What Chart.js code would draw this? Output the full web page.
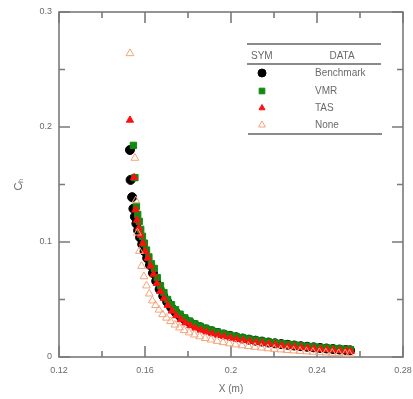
<!DOCTYPE html>
<html>
<head>
<meta charset="utf-8">
<script src="https://cdn.jsdelivr.net/npm/chart.js@4"></script>
<style>
  body { margin: 0; background: #fff; }
  #wrap { width: 413px; height: 399px; position: relative; }
</style>
</head>
<body>
<div id="wrap"><canvas id="chChart"></canvas></div>
<script>
// tick labels ('' = minor tick)
const xTickLabels = ['0.12', '', '0.16', '', '0.2', '', '0.24', '', '0.28'];
const yTickLabels = ['0', '', '0.1', '', '0.2', '', '0.3'];

const seriesNames = ['Benchmark', 'VMR', 'TAS', 'None'];

// Benchmark
const benchX = [0.1530, 0.1533, 0.1540, 0.1546, 0.1553, 0.1560, 0.1568, 0.1577, 0.1587, 0.1598,
    0.1610, 0.1623, 0.1637, 0.1652, 0.1668, 0.1685, 0.1703, 0.1722, 0.1742, 0.1763,
    0.1785, 0.1808, 0.1832, 0.1857, 0.1883, 0.1910, 0.1938, 0.1966, 0.1995, 0.2024,
    0.2054, 0.2084, 0.2114, 0.2144, 0.2174, 0.2204, 0.2234, 0.2264, 0.2294, 0.2324,
    0.2354, 0.2384, 0.2414, 0.2444, 0.2474, 0.2504, 0.2534, 0.2554];
const benchY = [0.180, 0.154, 0.139, 0.129, 0.122, 0.116, 0.110, 0.104, 0.098, 0.092,
    0.086, 0.080, 0.073, 0.066, 0.059, 0.053, 0.048, 0.043, 0.039, 0.0355,
    0.0325, 0.0300, 0.0278, 0.0258, 0.0240, 0.0224, 0.0209, 0.0196, 0.0184, 0.0172,
    0.0161, 0.0151, 0.0142, 0.0134, 0.0126, 0.0119, 0.0112, 0.0106, 0.0100, 0.0094,
    0.0089, 0.0084, 0.0079, 0.0074, 0.0069, 0.0065, 0.0061, 0.0058];

// VMR
const vmrX = [0.1546, 0.1553, 0.1560, 0.1566, 0.1573, 0.1580, 0.1588, 0.1597, 0.1607, 0.1618,
    0.1630, 0.1643, 0.1657, 0.1672, 0.1688, 0.1705, 0.1723, 0.1742, 0.1763, 0.1785,
    0.1808, 0.1832, 0.1857, 0.1883, 0.1910, 0.1938, 0.1966, 0.1995, 0.2024, 0.2054,
    0.2084, 0.2114, 0.2144, 0.2174, 0.2204, 0.2234, 0.2264, 0.2294, 0.2324, 0.2354,
    0.2384, 0.2414, 0.2444, 0.2474, 0.2504, 0.2534, 0.2556];
const vmrY = [0.184, 0.156, 0.131, 0.124, 0.118, 0.111, 0.105, 0.099, 0.093, 0.087,
    0.081, 0.077, 0.069, 0.062, 0.056, 0.050, 0.0455, 0.0412, 0.0372, 0.0340,
    0.0312, 0.0288, 0.0267, 0.0249, 0.0232, 0.0217, 0.0203, 0.0190, 0.0178, 0.0167,
    0.0157, 0.0147, 0.0139, 0.0131, 0.0124, 0.0117, 0.0111, 0.0105, 0.0099, 0.0094,
    0.0089, 0.0084, 0.0079, 0.0075, 0.0071, 0.0067, 0.0064];

// TAS
const tasX = [0.1530, 0.1549, 0.1556, 0.1563, 0.1571, 0.1580, 0.1590, 0.1601, 0.1613, 0.1626,
    0.1640, 0.1655, 0.1671, 0.1688, 0.1706, 0.1725, 0.1745, 0.1766, 0.1788, 0.1811,
    0.1835, 0.1860, 0.1886, 0.1913, 0.1941, 0.1969, 0.1998, 0.2027, 0.2057, 0.2087,
    0.2117, 0.2147, 0.2177, 0.2207, 0.2237, 0.2267, 0.2297, 0.2327, 0.2357, 0.2387,
    0.2417, 0.2447, 0.2477, 0.2507, 0.2537, 0.2557];
const tasY = [0.206, 0.156, 0.128, 0.119, 0.112, 0.106, 0.099, 0.092, 0.086, 0.079,
    0.072, 0.064, 0.057, 0.051, 0.045, 0.040, 0.036, 0.0325, 0.0297, 0.0273,
    0.0252, 0.0234, 0.0218, 0.0203, 0.0190, 0.0178, 0.0166, 0.0156, 0.0146, 0.0137,
    0.0129, 0.0121, 0.0114, 0.0107, 0.0101, 0.0095, 0.0089, 0.0084, 0.0079, 0.0074,
    0.0069, 0.0065, 0.0061, 0.0057, 0.0053, 0.0050];

// None
const noneX = [0.1530, 0.1553, 0.1557, 0.1565, 0.1574, 0.1584, 0.1595, 0.1607, 0.1620, 0.1634,
    0.1649, 0.1665, 0.1682, 0.1700, 0.1719, 0.1739, 0.1760, 0.1782, 0.1805, 0.1829,
    0.1854, 0.1880, 0.1907, 0.1935, 0.1963, 0.1992, 0.2021, 0.2051, 0.2081, 0.2111,
    0.2141, 0.2171, 0.2201, 0.2231, 0.2261, 0.2291, 0.2321, 0.2351, 0.2381, 0.2411,
    0.2441, 0.2471, 0.2501, 0.2531, 0.2551];
const noneY = [0.264, 0.173, 0.136, 0.108, 0.092, 0.079, 0.070, 0.062, 0.055, 0.049,
    0.045, 0.041, 0.037, 0.034, 0.031, 0.028, 0.0255, 0.0232, 0.0212, 0.0194,
    0.0178, 0.0163, 0.0150, 0.0138, 0.0127, 0.0117, 0.0108, 0.0100, 0.0093, 0.0086,
    0.0080, 0.0074, 0.0069, 0.0064, 0.0059, 0.0055, 0.0051, 0.0047, 0.0043, 0.0040,
    0.0037, 0.0034, 0.0031, 0.0028, 0.0026];

function toPoints(xs, ys) {
    return xs.map((x, i) => ({ x: x, y: ys[i] }));
}

const axisGray = '#7a7a7a';
const textGray = '#6a6a6a';
const fontFamily = '"Liberation Sans", Arial, sans-serif';

// frame around the plot with inward ticks on all four sides
const frameTicks = {
    id: 'frameTicks',
    beforeDatasetsDraw(chart) {
        const { ctx, chartArea: a, scales } = chart;
        ctx.save();
        ctx.strokeStyle = axisGray;
        ctx.lineWidth = 1.6;
        ctx.strokeRect(a.left, a.top, a.right - a.left, a.bottom - a.top);
        ctx.beginPath();
        scales.x.ticks.forEach((t, i) => {
            const len = xTickLabels[i] ? 11 : 6;
            const px = scales.x.getPixelForValue(t.value);
            ctx.moveTo(px, a.bottom); ctx.lineTo(px, a.bottom - len);
            ctx.moveTo(px, a.top); ctx.lineTo(px, a.top + len);
        });
        scales.y.ticks.forEach((t, i) => {
            const len = yTickLabels[i] ? 11 : 6;
            const py = scales.y.getPixelForValue(t.value);
            ctx.moveTo(a.left, py); ctx.lineTo(a.left + len, py);
            ctx.moveTo(a.right, py); ctx.lineTo(a.right - len, py);
        });
        ctx.stroke();
        ctx.restore();
    }
};

// table style legend (SYM / DATA) using each dataset's marker
const tableLegend = {
    id: 'tableLegend',
    afterDraw(chart) {
        const c = chart.ctx;
        const left = 247, right = 381;
        c.save();
        c.strokeStyle = '#8a8a8a';
        c.lineWidth = 2;
        c.beginPath();
        c.moveTo(left, 44); c.lineTo(right, 44);
        c.moveTo(left, 64); c.lineTo(right, 64);
        c.moveTo(left + 1, 134); c.lineTo(right + 1, 134);
        c.stroke();
        c.fillStyle = textGray;
        c.font = '10px ' + fontFamily;
        c.textBaseline = 'middle';
        c.textAlign = 'left';
        c.fillText('SYM', 251, 56);
        c.textAlign = 'center';
        c.fillText('DATA', 342, 56);
        const rows = [73, 91, 108, 125];
        chart.data.datasets.forEach((ds, i) => {
            c.fillStyle = ds.backgroundColor;
            c.strokeStyle = ds.borderColor;
            c.lineWidth = ds.borderWidth;
            Chart.helpers.drawPoint(c, {
                pointStyle: ds.pointStyle,
                radius: ds.legendRadius,
                borderWidth: ds.borderWidth
            }, 262, rows[i]);
            c.fillStyle = textGray;
            c.textAlign = 'left';
            c.fillText(ds.label, 315, rows[i]);
        });
        c.restore();
    }
};

const datasets = [
    { label: seriesNames[0], data: toPoints(benchX, benchY), pointStyle: 'circle', pointRadius: 4.5, legendRadius: 4,
      backgroundColor: '#000000', borderColor: '#000000', borderWidth: 1, order: 4 },
    { label: seriesNames[1], data: toPoints(vmrX, vmrY), pointStyle: 'rect', pointRadius: 4.5, legendRadius: 4,
      backgroundColor: '#118a11', borderColor: '#118a11', borderWidth: 1, order: 3 },
    { label: seriesNames[2], data: toPoints(tasX, tasY), pointStyle: 'triangle', pointRadius: 4.2, legendRadius: 3.5,
      backgroundColor: '#ff1010', borderColor: '#ff1010', borderWidth: 1, order: 2 },
    { label: seriesNames[3], data: toPoints(noneX, noneY), pointStyle: 'triangle', pointRadius: 4.5, legendRadius: 4,
      backgroundColor: 'rgba(0,0,0,0)', borderColor: '#f5a57c', borderWidth: 1, order: 1 }
];

const ctx = document.getElementById('chChart').getContext('2d');
const chChart = new Chart(ctx, {
    type: 'scatter',
    data: { datasets: datasets },
    options: {
        responsive: true,
        maintainAspectRatio: false,
        devicePixelRatio: 1,
        animation: false,
        layout: { padding: { top: 12, right: 10, left: 0, bottom: 0 } },
        plugins: { legend: { display: false }, tooltip: { enabled: false } },
        scales: {
            x: {
                type: 'linear',
                min: 0.12,
                max: 0.28,
                grid: { display: false, drawTicks: false },
                border: { display: false },
                ticks: {
                    stepSize: 0.02,
                    autoSkip: false,
                    maxRotation: 0,
                    padding: 8,
                    color: textGray,
                    font: { family: fontFamily, size: 9 },
                    callback: (v, i) => xTickLabels[i]
                },
                title: {
                    display: true,
                    text: 'X (m)',
                    color: textGray,
                    font: { family: fontFamily, size: 10 },
                    padding: { top: 0, bottom: 4 }
                },
                afterFit: s => { s.height = 42; s.paddingLeft = 0; s.paddingRight = 0; }
            },
            y: {
                type: 'linear',
                min: 0,
                max: 0.3,
                grid: { display: false, drawTicks: false },
                border: { display: false },
                ticks: {
                    stepSize: 0.05,
                    autoSkip: false,
                    padding: 7,
                    color: textGray,
                    font: { family: fontFamily, size: 9 },
                    callback: (v, i) => yTickLabels[i]
                },
                title: {
                    display: true,
                    text: 'Cₕ',
                    color: textGray,
                    font: { family: fontFamily, size: 11 },
                    padding: { top: 12, bottom: 0 }
                },
                afterFit: s => { s.width = 59; s.paddingTop = 0; s.paddingBottom = 0; }
            }
        }
    },
    plugins: [frameTicks, tableLegend]
});
</script>
</body>
</html>
